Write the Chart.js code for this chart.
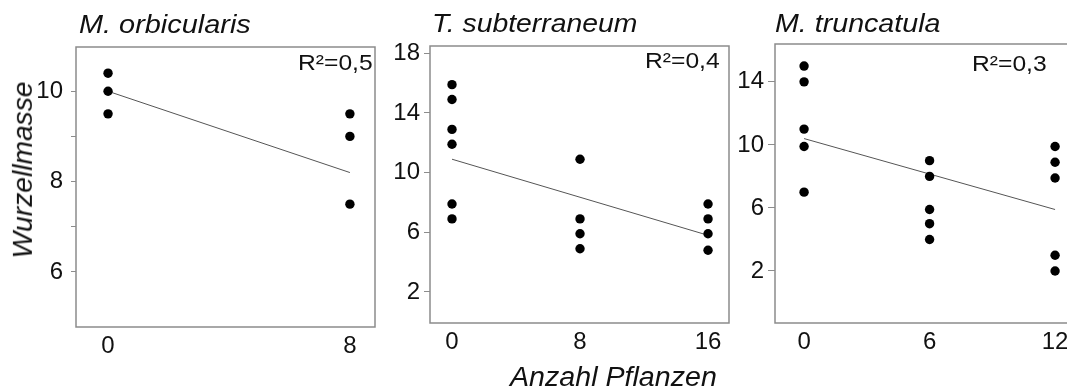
<!DOCTYPE html>
<html><head><meta charset="utf-8">
<script src="https://cdn.jsdelivr.net/npm/chart.js@4/dist/chart.umd.min.js"></script>
<style>
html,body{margin:0;padding:0;background:#fff;overflow:hidden}
#wrap{position:relative;width:1067px;height:391px;overflow:hidden;font-family:"Liberation Sans",Arial,sans-serif;color:#111}
canvas{position:absolute;top:0}
.t{position:absolute;white-space:nowrap;line-height:1;font-style:italic;transform-origin:left top}
.r{position:absolute;white-space:nowrap;line-height:1;font-size:22px;transform:scaleX(1.12);transform-origin:right top}
</style></head><body><div id="wrap">
<canvas id="c1" width="390" height="391" style="left:0px"></canvas>
<canvas id="c2" width="350" height="391" style="left:385px"></canvas>
<canvas id="c3" width="355" height="391" style="left:735px"></canvas>
<div class="t" style="left:79px;top:10.6px;font-size:26.5px;transform:scaleX(1.09)">M. orbicularis</div>
<div class="t" style="left:432px;top:9.6px;font-size:26.5px;transform:scaleX(1.07)">T. subterraneum</div>
<div class="t" style="left:775px;top:9.6px;font-size:26.5px;transform:scaleX(1.08)">M. truncatula</div>
<div class="r" style="right:694px;top:52.4px">R²=0,5</div>
<div class="r" style="right:347px;top:50.4px">R²=0,4</div>
<div class="r" style="right:20px;top:53.4px">R²=0,3</div>
<div class="t" style="left:510px;top:364px;font-size:27px;transform:scaleX(1.06)">Anzahl Pflanzen</div>
<div class="t" style="left:22.4px;top:170px;font-size:28.2px;transform-origin:center;transform:translate(-50%,-50%) rotate(-90deg)">Wurzellmasse</div>
</div>
<script>
// ---- data ----
const orbX = [0, 0, 0, 8, 8, 8];
const orbY = [10.4, 10.0, 9.5, 9.5, 9.0, 7.5];
const orbFitX = [0, 8];
const orbFitY = [10.0, 8.2];
const orbXTicks = [0, 8];
const orbYTicks = [6, 7, 8, 9, 10];
const orbYLabels = [6, 8, 10];

const subX = [0, 0, 0, 0, 0, 0, 8, 8, 8, 8, 16, 16, 16, 16];
const subY = [15.9, 14.9, 12.9, 11.9, 7.9, 6.9, 10.9, 6.9, 5.9, 4.9, 7.9, 6.9, 5.9, 4.8];
const subFitX = [0, 16];
const subFitY = [10.9, 5.8];
const subXTicks = [0, 8, 16];
const subYTicks = [2, 6, 10, 14, 18];
const subYLabels = [2, 6, 10, 14, 18];

const truX = [0, 0, 0, 0, 0, 6, 6, 6, 6, 6, 12, 12, 12, 12, 12];
const truY = [15.0, 14.0, 11.0, 9.9, 7.0, 9.0, 8.0, 5.9, 5.0, 4.0, 9.9, 8.9, 7.9, 3.0, 2.0];
const truFitX = [0, 12];
const truFitY = [10.4, 5.9];
const truXTicks = [0, 6, 12];
const truYTicks = [2, 6, 10, 14];
const truYLabels = [2, 6, 10, 14];

const FONT = '"Liberation Sans", Arial, sans-serif';

const framePlugin = {
  id: 'frame',
  afterDatasetsDraw(chart, args, opts) {
    const {left, right, top, bottom} = chart.chartArea;
    const ctx = chart.ctx;
    ctx.save();
    ctx.strokeStyle = '#8c8c8c';
    ctx.lineWidth = 1.5;
    ctx.beginPath();
    if (opts.noRight) {
      ctx.moveTo(right + 5, top); ctx.lineTo(left, top); ctx.lineTo(left, bottom); ctx.lineTo(right + 5, bottom);
    } else {
      ctx.rect(left, top, right - left, bottom - top);
    }
    ctx.stroke();
    ctx.restore();
  }
};

function pts(xs, ys) { return xs.map((x, i) => ({x: x, y: ys[i]})); }

function panel(id, p) {
  new Chart(document.getElementById(id), {
    type: 'scatter',
    data: {
      datasets: [
        {data: pts(p.x, p.y), pointRadius: 4.7, backgroundColor: '#000', borderWidth: 0, pointHoverRadius: 4.7},
        {type: 'line', data: pts(p.fx, p.fy), borderColor: '#555', borderWidth: 1, pointRadius: 0, fill: false}
      ]
    },
    options: {
      responsive: false, animation: false, events: [],
      layout: {padding: {left: 0, right: p.pr, top: p.pt, bottom: p.pb}},
      plugins: {legend: {display: false}, tooltip: {enabled: false}, frame: {noRight: !!p.noRight}},
      scales: {
        x: {
          type: 'linear', min: p.xmin, max: p.xmax,
          afterBuildTicks: s => { s.ticks = p.xt.map(v => ({value: v})); },
          afterFit: s => { s.height = 30; },
          grid: {display: false, drawTicks: false},
          border: {display: false},
          ticks: {padding: 5, color: '#111', font: {family: FONT, size: 24}, maxRotation: 0, autoSkip: false}
        },
        y: {
          type: 'linear', min: p.ymin, max: p.ymax,
          afterBuildTicks: s => { s.ticks = p.yt.map(v => ({value: v})); },
          afterFit: s => { s.width = p.yw; },
          grid: {drawOnChartArea: false, tickLength: p.tl, color: '#8c8c8c', tickColor: '#8c8c8c', lineWidth: 1},
          border: {display: false},
          ticks: {padding: p.tp, color: '#111', font: {family: FONT, size: 24}, autoSkip: false,
                  callback: v => p.yl.includes(v) ? String(v) : ''}
        }
      }
    },
    plugins: [framePlugin]
  });
}

panel('c1', {x: orbX, y: orbY, fx: orbFitX, fy: orbFitY, xt: orbXTicks, yt: orbYTicks, yl: orbYLabels,
  xmin: -1.06, xmax: 8.83, ymin: 4.78, ymax: 10.98, yw: 76, pr: 15, pt: 47, pb: 34, tl: 5, tp: 8});
panel('c2', {x: subX, y: subY, fx: subFitX, fy: subFitY, xt: subXTicks, yt: subYTicks, yl: subYLabels,
  xmin: -1.375, xmax: 17.31, ymin: -0.08, ymax: 18.49, yw: 45, pr: 6, pt: 46, pb: 38, tl: 6, tp: 4});
panel('c3', {x: truX, y: truY, fx: truFitX, fy: truFitY, xt: truXTicks, yt: truYTicks, yl: truYLabels,
  xmin: -1.39, xmax: 12.57, ymin: -1.3, ymax: 16.4, yw: 40, pr: 23, pt: 44, pb: 38, tl: 7, tp: 4, noRight: true});
</script>
</body></html>
